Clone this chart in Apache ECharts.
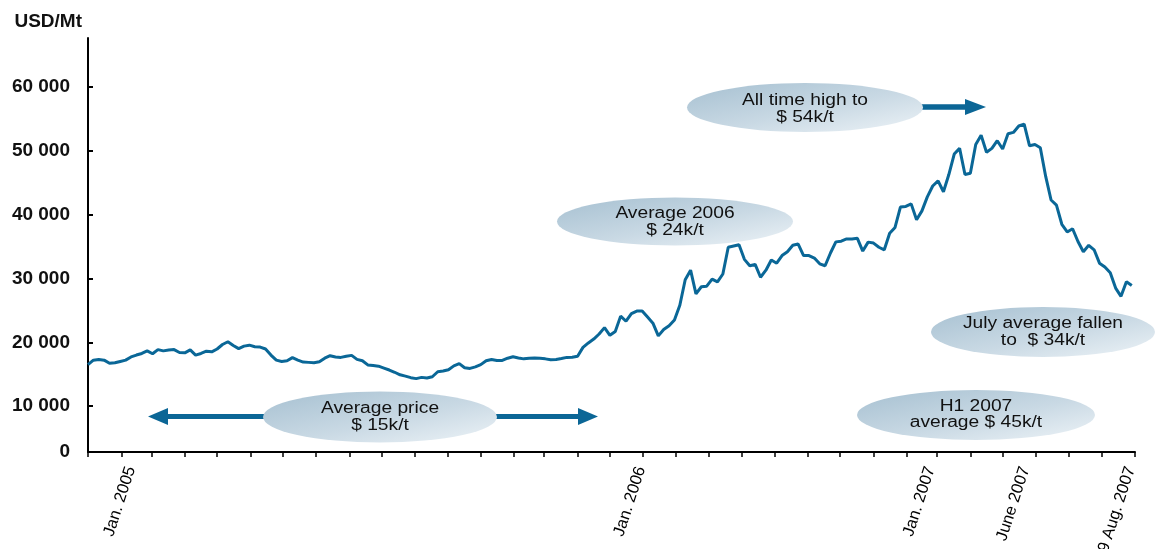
<!DOCTYPE html>
<html>
<head>
<meta charset="utf-8">
<script src="https://cdn.jsdelivr.net/npm/echarts@6/dist/echarts.min.js"></script>
<style>
  html, body { margin: 0; padding: 0; background: #fff; }
  #chart { width: 1155px; height: 549px; }
</style>
</head>
<body>
<div id="chart"></div>
<script>
// ---------------- DATA ----------------
// Price readings every 5 days starting 2005-01-01 (USD/Mt)
const seriesStart = '2005-01-01';
const stepDays = 5;
const priceValues = [
16500,17200,17300,17200,16700,16800,17000,17200,17700,18000,
18250,18650,18200,18850,18650,18800,18850,18400,18350,18800,
17990,18250,18600,18500,18950,19650,20080,19500,19000,19400,
19550,19300,19250,18950,18000,17200,17000,17100,17600,17200,
16900,16850,16800,16940,17500,17900,17700,17630,17800,17950,
17320,17100,16450,16350,16250,15950,15650,15300,14900,14700,
14450,14300,14500,14400,14600,15380,15500,15700,16300,16650,
16000,15900,16150,16500,17100,17300,17150,17150,17500,17730,
17550,17400,17480,17550,17480,17400,17250,17300,17450,17630,
17650,17800,19200,19900,20500,21300,22300,21100,21700,24100,
23300,24500,24900,24900,23950,23000,21000,22000,22600,23500,
25800,29800,31300,27600,28700,28800,29900,29470,30700,34900,
35100,35300,33000,32000,32200,30200,31300,32900,32400,33600,
34200,35200,35400,33600,33600,33200,32300,32000,34000,35740,
35850,36200,36200,36300,34300,35700,35550,34900,34500,37100,
38000,41200,41300,41700,39200,40600,42800,44500,45300,43600,
46300,49500,50400,46300,46500,51000,52450,49800,50400,51600,
50300,52700,52900,53900,54200,50800,51000,50500,46000,42300,
41500,38500,37300,37800,35800,34200,35200,34500,32400,31800,
30900,28500,27200,29500,28900
];

// Axis range and tick labels
const xAxisStart = '2005-01-01';
const xAxisEnd = '2007-09-01';
const xLabelDates = ['2005-02-10', '2006-05-30', '2007-02-23', '2007-05-22', '2007-08-28'];
const xLabels = ['Jan. 2005', 'Jan. 2006', 'Jan. 2007', 'June 2007', '29 Aug. 2007'];

const yMin = 2800;
const yMax = 67700;
const yTickValues = [2800, 10000, 20000, 30000, 40000, 50000, 60000];
const yTickLabels = ['0', '10 000', '20 000', '30 000', '40 000', '50 000', '60 000'];

// Annotations
const noteLines = [
  ['Average price', '$ 15k/t'],
  ['Average 2006', '$ 24k/t'],
  ['All time high to', '$ 54k/t'],
  ['July average fallen', 'to  $ 34k/t'],
  ['H1 2007', 'average $ 45k/t']
];

// ---------------- BUILD ----------------
function ts(s) {
  const p = s.split('-').map(Number);
  return new Date(p[0], p[1] - 1, p[2]).getTime();
}
const startParts = seriesStart.split('-').map(Number);
const lineData = priceValues.map((v, i) =>
  [new Date(startParts[0], startParts[1] - 1, startParts[2] + i * stepDays).getTime(), v]);

const xMinTs = ts(xAxisStart), xMaxTs = ts(xAxisEnd);
const monthTicks = [];
for (let m = 0; ; m++) {
  const t = new Date(2005, m, 1).getTime();
  if (t > xMaxTs) break;
  monthTicks.push(t);
}
const xLabelTs = xLabelDates.map(ts);

function nearestIdx(arr, v) {
  let best = 0, bd = Infinity;
  arr.forEach((a, i) => { const d = Math.abs(a - v); if (d < bd) { bd = d; best = i; } });
  return best;
}

const FONT = '"Liberation Sans", Arial, Helvetica, sans-serif';
const LINE_BLUE = '#0a6797';
const ARROW_BLUE = '#0b6696';

function ellipseGradient() {
  return {
    type: 'linear', x: 0, y: 0, x2: 1, y2: 1,
    colorStops: [
      { offset: 0, color: '#a6c0d1' },
      { offset: 0.55, color: '#c9d9e4' },
      { offset: 1, color: '#edf3f7' }
    ]
  };
}

function note(cx, cy, rx, ry, lines, y1, y2) {
  return [
    {
      type: 'circle', x: cx, y: cy, scaleY: ry / rx, z: 5,
      shape: { cx: 0, cy: 0, r: rx },
      style: { fill: ellipseGradient() }
    },
    {
      type: 'text', x: cx, y: y1, scaleX: 1.2, z: 6,
      style: { text: lines[0], font: '16px ' + FONT, fill: '#111',
               align: 'center', verticalAlign: 'middle', textAlign: 'center', textVerticalAlign: 'middle' }
    },
    {
      type: 'text', x: cx, y: y2, scaleX: 1.2, z: 6,
      style: { text: lines[1], font: '16px ' + FONT, fill: '#111',
               align: 'center', verticalAlign: 'middle', textAlign: 'center', textVerticalAlign: 'middle' }
    }
  ];
}

function arrowRight(x0, x1, y, headLen, headHalf, shaftHalf) {
  return {
    type: 'polygon', z: 4,
    shape: { points: [
      [x0, y - shaftHalf], [x1 - headLen, y - shaftHalf], [x1 - headLen, y - headHalf],
      [x1, y], [x1 - headLen, y + headHalf], [x1 - headLen, y + shaftHalf], [x0, y + shaftHalf]
    ] },
    style: { fill: ARROW_BLUE }
  };
}
function arrowLeft(x0, x1, y, headLen, headHalf, shaftHalf) {
  return {
    type: 'polygon', z: 4,
    shape: { points: [
      [x1, y - shaftHalf], [x0 + headLen, y - shaftHalf], [x0 + headLen, y - headHalf],
      [x0, y], [x0 + headLen, y + headHalf], [x0 + headLen, y + shaftHalf], [x1, y + shaftHalf]
    ] },
    style: { fill: ARROW_BLUE }
  };
}

const graphics = [].concat(
  [arrowLeft(148, 300, 416.5, 20, 8.5, 2.6), arrowRight(460, 598, 416.5, 20, 8.5, 2.6)],
  note(380, 417, 117, 25.5, noteLines[0], 408.5, 426),
  note(675, 221.5, 118, 24, noteLines[1], 214, 231),
  [arrowRight(900, 986, 107, 21, 8, 2.8)],
  note(805, 107.5, 118, 24.5, noteLines[2], 100.5, 117.5),
  note(1043, 332, 112, 25, noteLines[3], 324, 341),
  note(976, 415, 119, 25, noteLines[4], 406.5, 423)
);

const chart = echarts.init(document.getElementById('chart'), null, { renderer: 'canvas' });
chart.setOption({
  animation: false,
  backgroundColor: '#ffffff',
  grid: { left: 88, right: 20, top: 38, bottom: 97, containLabel: false, outerBoundsMode: 'none' },
  xAxis: {
    type: 'value',
    min: xMinTs,
    max: xMaxTs,
    axisLine: { show: true, lineStyle: { color: '#000', width: 2 } },
    axisTick: { show: true, customValues: monthTicks, length: 5, lineStyle: { color: '#000', width: 1.5 } },
    axisLabel: {
      show: true,
      customValues: xLabelTs,
      formatter: (v) => xLabels[nearestIdx(xLabelTs, v)],
      rotate: 72,
      margin: 15,
      fontSize: 16.5,
      fontFamily: FONT,
      color: '#000',
      hideOverlap: false,
      showMinLabel: true,
      showMaxLabel: true
    },
    splitLine: { show: false }
  },
  yAxis: {
    type: 'value',
    min: yMin,
    max: yMax,
    name: 'USD/Mt',
    nameLocation: 'end',
    nameGap: 7,
    nameTextStyle: { fontFamily: FONT, fontWeight: 'bold', fontSize: 19, color: '#111',
                     align: 'right', verticalAlign: 'bottom', padding: [0, 6, 0, 0] },
    axisLine: { show: true, lineStyle: { color: '#000', width: 2 } },
    axisTick: { show: true, inside: true, length: 5, customValues: yTickValues.slice(1),
                lineStyle: { color: '#000', width: 2 } },
    axisLabel: {
      show: true,
      customValues: yTickValues,
      formatter: (v) => yTickLabels[nearestIdx(yTickValues, v)],
      fontFamily: FONT,
      fontWeight: 'bold',
      fontSize: 19,
      color: '#111',
      margin: 18
    },
    splitLine: { show: false }
  },
  series: [{
    type: 'line',
    name: 'Nickel price',
    data: lineData,
    showSymbol: false,
    symbol: 'none',
    lineStyle: { color: LINE_BLUE, width: 3 },
    z: 3
  }],
  graphic: graphics
});
</script>
</body>
</html>
